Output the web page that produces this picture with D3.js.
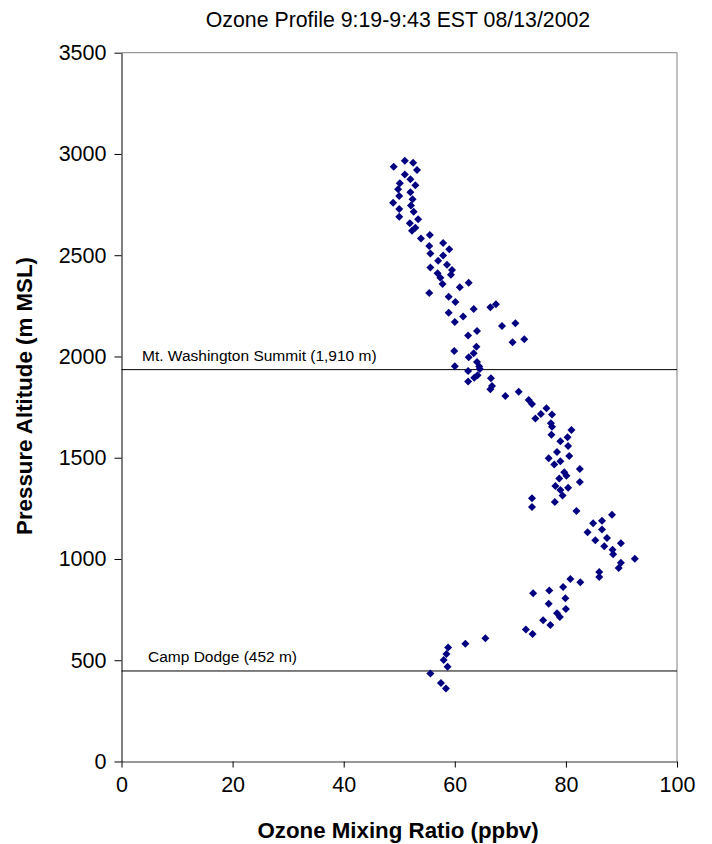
<!DOCTYPE html>
<html><head><meta charset="utf-8">
<script src="https://cdn.jsdelivr.net/npm/d3@7"></script>
<style>body{margin:0;background:#fff;} svg{display:block;font-family:"Liberation Sans",Arial,sans-serif;}</style>
</head><body><svg id="c" width="712" height="844"></svg>
<script>
const title = "Ozone Profile 9:19-9:43 EST 08/13/2002";
const xLabel = "Ozone Mixing Ratio (ppbv)";
const yLabel = "Pressure Altitude (m MSL)";
const xTicks = [0, 20, 40, 60, 80, 100];
const yTicks = [0, 500, 1000, 1500, 2000, 2500, 3000, 3500];
const ozone = [51.0,52.5,49.0,53.2,51.0,52.0,50.1,52.9,49.8,52.0,50.0,52.4,48.9,52.1,50.0,52.6,50.0,53.4,51.9,52.9,52.3,55.5,53.9,57.9,55.4,59.0,55.6,57.9,57.0,58.6,55.6,59.5,56.9,59.3,57.4,62.5,57.8,60.9,55.4,58.9,60.1,67.4,66.4,63.4,58.9,61.5,60.0,70.9,68.5,64.0,62.4,72.5,70.4,63.9,59.9,63.4,62.5,64.0,60.0,64.4,64.5,62.4,64.1,63.5,66.5,62.4,66.7,66.4,71.5,69.1,73.3,73.9,76.5,75.5,77.5,74.5,77.3,77.5,81.0,77.4,80.3,79.0,80.4,78.4,80.6,76.9,79.0,77.9,82.5,79.7,80.1,78.8,82.5,78.1,80.4,79.0,79.4,73.9,78.0,73.9,81.9,88.3,86.5,84.9,86.5,83.9,87.4,85.3,89.9,86.9,88.4,88.5,92.4,89.9,89.5,86.0,86.0,80.8,82.6,79.5,77.0,74.1,79.9,76.9,80.0,78.4,78.9,75.9,77.2,72.8,74.0,65.5,61.9,58.8,58.5,58.0,58.7,55.6,57.5,58.4];
const altitude = [2967,2957,2937,2921,2898,2875,2855,2845,2826,2811,2793,2776,2759,2745,2728,2715,2690,2678,2658,2636,2621,2600,2582,2560,2546,2529,2508,2498,2473,2453,2439,2427,2411,2404,2389,2364,2358,2342,2314,2295,2269,2258,2243,2235,2216,2197,2170,2164,2151,2126,2103,2085,2070,2048,2027,2016,1996,1973,1952,1950,1938,1928,1907,1895,1892,1877,1854,1838,1826,1805,1785,1765,1744,1716,1713,1694,1670,1653,1637,1614,1601,1581,1558,1528,1509,1497,1482,1466,1444,1428,1411,1397,1380,1360,1352,1341,1313,1300,1281,1257,1237,1219,1189,1176,1145,1132,1104,1092,1078,1063,1046,1023,1001,982,956,936,911,901,885,862,845,831,806,779,753,732,714,697,674,652,630,608,582,563,531,501,468,434,388,361];
const refNames = ["Mt. Washington Summit (1,910 m)", "Camp Dodge (452 m)"];
const refAltitudes = [1935, 447];

const svg = d3.select("#c");
const L = 121.5, R = 677, T = 52.7, B = 761.5;
const x = d3.scaleLinear().domain([0, 100]).range([L, R]);
const y = d3.scaleLinear().domain([0, 3500]).range([B, T]);

// plot frame (top/right gray)
svg.append("line").attr("x1", L).attr("x2", R).attr("y1", T).attr("y2", T).attr("stroke", "#808080").attr("stroke-width", 1);
svg.append("line").attr("x1", R).attr("x2", R).attr("y1", T).attr("y2", B).attr("stroke", "#808080").attr("stroke-width", 1);

const xAxis = svg.append("g").attr("transform", `translate(0,${B})`)
  .call(d3.axisBottom(x).tickValues(xTicks).tickFormat(d3.format("d")).tickSize(6).tickSizeOuter(0).tickPadding(9));
const yAxis = svg.append("g").attr("transform", `translate(${L},0)`)
  .call(d3.axisLeft(y).tickValues(yTicks).tickFormat(d3.format("d")).tickSize(7).tickSizeOuter(0).tickPadding(8));
[xAxis, yAxis].forEach(g => {
  g.selectAll("path,line").attr("stroke", "#000").attr("stroke-width", 1);
  g.selectAll("text").attr("font-size", 21.5).attr("fill", "#000").attr("font-family", "Liberation Sans, Arial, sans-serif");
});
xAxis.select(".domain").attr("stroke", "#333");

// reference lines
refAltitudes.forEach((a, i) => {
  svg.append("line").attr("x1", L).attr("x2", R).attr("y1", y(a)).attr("y2", y(a))
    .attr("stroke", "#000").attr("stroke-width", 1);
  svg.append("text").attr("x", i === 0 ? 142 : 148).attr("y", y(a) - 9)
    .attr("font-size", 15.5).attr("fill", "#000").text(refNames[i]);
});

// points
const sym = d3.symbol().type(d3.symbolSquare).size(32);
svg.append("g").selectAll("path").data(ozone.map((o, i) => [o, altitude[i]])).join("path")
  .attr("d", sym)
  .attr("transform", d => `translate(${x(d[0])},${y(d[1])}) rotate(45)`)
  .attr("fill", "#000080");

svg.append("text").attr("x", 398).attr("y", 27).attr("text-anchor", "middle")
  .attr("font-size", 21.3).attr("fill", "#000").text(title);
svg.append("text").attr("x", 398).attr("y", 838).attr("text-anchor", "middle")
  .attr("font-size", 22.3).attr("font-weight", "bold").attr("fill", "#000").text(xLabel);
svg.append("text").attr("transform", "translate(32,396) rotate(-90)").attr("text-anchor", "middle")
  .attr("font-size", 22.3).attr("font-weight", "bold").attr("fill", "#000").text(yLabel);
</script></body></html>
